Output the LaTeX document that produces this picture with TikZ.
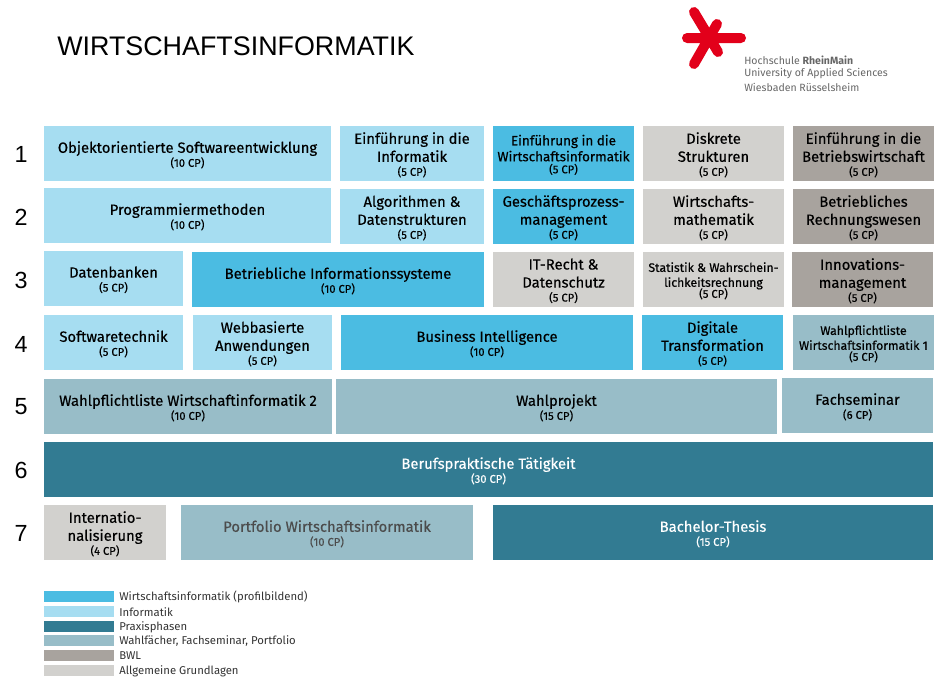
\documentclass[tikz,border=0pt]{standalone}
\usepackage{fontspec}
\usepackage{xcolor}
\setmainfont{Fira Sans}
\newfontfamily\modfamily[FakeBold=0.4]{Fira Sans}
\newfontfamily\arialfamily{Liberation Sans}
\definecolor{wiblau}{HTML}{4BBCE2}
\definecolor{infblau}{HTML}{A6DDF1}
\definecolor{praxisblau}{HTML}{327B92}
\definecolor{wahlblau}{HTML}{98BDC8}
\definecolor{bwlgrau}{HTML}{A8A39E}
\definecolor{allggrau}{HTML}{D2D1CE}
\definecolor{logorot}{HTML}{E2001A}
\newcommand{\modfont}{\modfamily\fontsize{11.1}{13.5}\selectfont}
\newcommand{\einffont}{\modfamily\fontsize{10.1}{12}\selectfont}
\newcommand{\kleinfont}{\modfamily\fontsize{9.2}{11.2}\selectfont}
\newcommand{\cpfont}{\fontsize{8.4}{9}\selectfont}
\newcommand{\modul}[8]{\path[#2] (#3, #4) rectangle (#5, #6) node[midway, yshift=-1pt, align=center] (#1) {#7\\[-3pt]{\cpfont (#8 CP)}};}
\newcommand{\legende}[4]{\path[#2] (44, #3) rectangle (114, #3+11);
    \node[legtext] (#1) at (119, #3+6) {#4};}
\tikzset{
    x=.75pt, y=-.75pt,
    wi/.style={fill=wiblau},
    inf/.style={fill=infblau},
    praxis/.style={fill=praxisblau, text=white},
    wahl/.style={fill=wahlblau},
    bwl/.style={fill=bwlgrau},
    allg/.style={fill=allggrau},
    semester/.style={font=\arialfamily\fontsize{17.5}{20}\selectfont},
    legtext/.style={anchor=west, inner sep=0, text=black!80, font=\fontsize{8.5}{10}\selectfont},
    logotext/.style={anchor=west, inner sep=0, text=black!60, font=\fontsize{7.9}{10}\selectfont},
    stern/.style={draw=logorot, line width=7.5pt, line cap=round}
}
\begin{document}
\begin{tikzpicture}[font=\modfont]
    \useasboundingbox (0, 0) rectangle (942, 682);
    \node[anchor=west, inner sep=0, font=\arialfamily\fontsize{20.15}{24}\selectfont] (titel) at (57, 46) {WIRTSCHAFTSINFORMATIK};

    \draw[stern] (694, 12) -- (718, 52)
        (717, 24) -- (694, 64)
        (687, 38) -- (741, 38);
    \node[logotext] (logoa) at (744, 60) {Hochschule \textbf{RheinMain}};
    \node[logotext] (logob) at (744, 73.5) {University of Applied Sciences};
    \node[logotext] (logoc) at (744, 87) {Wiesbaden Rüsselsheim};

    \node[semester] (s1) at (21, 154) {1};
    \node[semester] (s2) at (21, 217) {2};
    \node[semester] (s3) at (21, 280) {3};
    \node[semester] (s4) at (21, 344) {4};
    \node[semester] (s5) at (21, 407) {5};
    \node[semester] (s6) at (21, 470) {6};
    \node[semester] (s7) at (21, 533) {7};

    \modul{oop}{inf}{44}{126}{331}{181}{Objektorientierte Softwareentwicklung}{10}
    \modul{einfinf}{inf}{340}{126}{484}{181}{Einführung in die\\Informatik}{5}
    \modul{einfwi}{wi,font=\einffont}{493}{126}{634}{181}{Einführung in die\\Wirtschaftsinformatik}{5}
    \modul{diskret}{allg}{643}{126}{784}{181}{Diskrete\\Strukturen}{5}
    \modul{einfbwl}{bwl}{793}{126}{934}{181}{Einführung in die\\Betriebswirtschaft}{5}

    \modul{prog}{inf}{44}{188}{331}{243}{Programmiermethoden}{10}
    \modul{algo}{inf}{340}{189}{484}{244}{Algorithmen \&\\Datenstrukturen}{5}
    \modul{gpm}{wi}{493}{189}{634}{244}{Geschäftsprozess-\\management}{5}
    \modul{mathe}{allg}{643}{189}{784}{244}{Wirtschafts-\\mathematik}{5}
    \modul{rewe}{bwl}{793}{189}{934}{244}{Betriebliches\\Rechnungswesen}{5}

    \modul{db}{inf}{44}{251}{183}{306}{Datenbanken}{5}
    \modul{bis}{wi}{192}{252}{484}{307}{Betriebliche Informationssysteme}{10}
    \modul{recht}{allg}{493}{252}{634}{307}{IT-Recht \&\\Datenschutz}{5}
    \modul{stat}{allg,font=\kleinfont}{643}{252}{784}{307}{Statistik \& Wahrschein-\\lichkeitsrechnung}{5}
    \modul{innov}{bwl}{792}{252}{933}{307}{Innovations-\\management}{5}

    \modul{swt}{inf}{44}{315}{183}{370}{Softwaretechnik}{5}
    \modul{web}{inf}{193}{315}{332}{370}{Webbasierte\\Anwendungen}{5}
    \modul{bi}{wi}{341}{315}{633}{370}{Business Intelligence}{10}
    \modul{digi}{wi}{642}{315}{783}{370}{Digitale\\Transformation}{5}
    \modul{wplA}{wahl,font=\kleinfont}{793}{315}{934}{370}{Wahlpflichtliste\\Wirtschaftsinformatik 1}{5}

    \modul{wplB}{wahl}{44}{379}{332}{434}{Wahlpflichtliste Wirtschaftinformatik 2}{10}
    \modul{projekt}{wahl}{336}{379}{777}{434}{Wahlprojekt}{15}
    \modul{seminar}{wahl}{782}{378}{933}{433}{Fachseminar}{6}

    \modul{praxis}{praxis}{44}{442}{933}{497}{Berufspraktische Tätigkeit}{30}

    \modul{intern}{allg}{44}{505}{166}{560}{Internatio-\\nalisierung}{4}
    \modul{portfolio}{wahl,text=black!70}{181}{505}{473}{560}{Portfolio Wirtschaftsinformatik}{10}
    \modul{thesis}{praxis}{493}{505}{933}{560}{Bachelor-Thesis}{15}

    \legende{lega}{wi}{591}{Wirtschaftsinformatik (profilbildend)}
    \legende{legb}{inf}{606}{Informatik}
    \legende{legc}{praxis}{621}{Praxisphasen}
    \legende{legd}{wahl}{635}{Wahlfächer, Fachseminar, Portfolio}
    \legende{lege}{bwl}{650}{BWL}
    \legende{legf}{allg}{665}{Allgemeine Grundlagen}
\end{tikzpicture}
\end{document}
